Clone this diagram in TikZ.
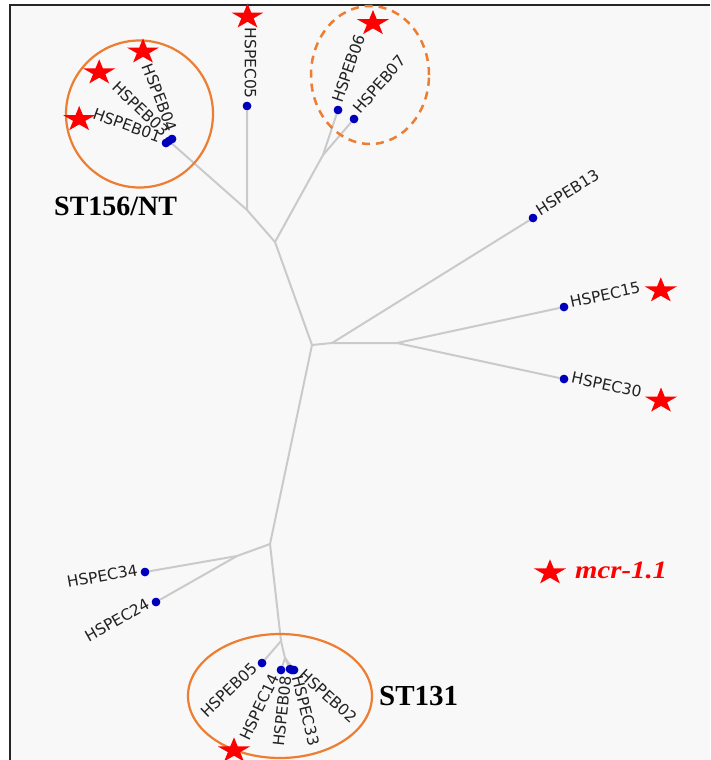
\documentclass[tikz,border=0pt]{standalone}
\usepackage{fontspec}
\newfontfamily\lblfont{DejaVu Sans}
\newfontfamily\serifb{Liberation Serif}
\usetikzlibrary{calc}
\definecolor{dotblue}{RGB}{0,0,187}
\definecolor{branchc}{RGB}{202,202,202}
\definecolor{orng}{RGB}{237,125,49}
\definecolor{bgc}{RGB}{248,248,248}
\definecolor{lbltxt}{RGB}{34,34,34}
\tikzset{
  mstar/.pic={\fill[red] (0pt,13.3pt) -- (3.77pt,4.11pt) -- (15.98pt,4.11pt) -- (6.11pt,-1.57pt)
     -- (9.88pt,-10.76pt) -- (0pt,-5.08pt) -- (-9.88pt,-10.76pt) -- (-6.11pt,-1.57pt)
     -- (-15.98pt,4.11pt) -- (-3.77pt,4.11pt) -- cycle;}
}
\begin{document}
\begin{tikzpicture}[x=1pt,y=-1pt,
  br/.style={draw=branchc, line width=2pt},
  leaf/.style={circle, fill=dotblue, inner sep=0pt, minimum size=8.5pt},
  lbl/.style={font=\lblfont\fontsize{15.5}{16}\selectfont, text=lbltxt, inner sep=0pt},
  grp/.style={draw=orng, line width=2.2pt},
  grpdash/.style={draw=orng, line width=2.5pt, dash pattern=on 8pt off 6pt},
  sttext/.style={font=\serifb\bfseries\fontsize{28}{30}\selectfont, text=black, inner sep=0pt, anchor=base west}
]
\useasboundingbox (0,0) rectangle (710,760);
\fill[white] (0,0) rectangle (710,760);
\fill[bgc] (10,5) rectangle (710,760);
\draw[line width=2pt, black!85] (10,760) -- (10,5) -- (710,5);

% internal nodes
\coordinate (A) at (312,345);
\coordinate (B) at (275,242);
\coordinate (C) at (247,210);
\coordinate (D) at (323,155);
\coordinate (E) at (332,343);
\coordinate (F) at (397,343);
\coordinate (G) at (270,544);
\coordinate (H) at (237,556);
\coordinate (I) at (281,641);
\coordinate (J) at (285,658);

% leaves
\node[leaf] (c05) at (247,106) {};
\node[leaf] (b01) at (166,143) {};
\node[leaf] (b03) at (169,141) {};
\node[leaf] (b04) at (172,139) {};
\node[leaf] (b06) at (338,110) {};
\node[leaf] (b07) at (354,119) {};
\node[leaf] (b13) at (533,218) {};
\node[leaf] (c15) at (564,307) {};
\node[leaf] (c30) at (564,379) {};
\node[leaf] (c34) at (145,572) {};
\node[leaf] (c24) at (156,602) {};
\node[leaf] (b05) at (262,663) {};
\node[leaf] (c14) at (281,670) {};
\node[leaf] (b08) at (290,669) {};
\node[leaf] (c33) at (292,670) {};
\node[leaf] (b02) at (294,670) {};

% branches
\draw[br] (A) -- (B) -- (C) -- (c05);
\draw[br] (C) -- (b03.center); \draw[br] (b01.center) -- (b04.center);
\draw[br] (B) -- (D) -- (b06); \draw[br] (D) -- (b07);
\draw[br] (A) -- (E) -- (b13); \draw[br] (E) -- (F) -- (c15); \draw[br] (F) -- (c30);
\draw[br] (A) -- (G) -- (H) -- (c34); \draw[br] (H) -- (c24);
\draw[br] (G) -- (I) -- (b05); \draw[br] (I) -- (J) -- (c14);
\draw[br] (J) -- (b08); \draw[br] (J) -- (c33); \draw[br] (J) -- (b02);

% redraw dots on top
\foreach \n in {c05,b01,b03,b04,b06,b07,b13,c15,c30,c34,c24,b05,c14,b08,c33,b02}
  \fill[dotblue] (\n.center) circle (4.25pt);

% labels (right reading)
\node[lbl, rotate=71, anchor=mid west] (lb06) at ($(b06)+(71:7pt)$) {HSPEB06};
\node[lbl, rotate=49, anchor=mid west] (lb07) at ($(b07)+(49:7pt)$) {HSPEB07};
\node[lbl, rotate=32, anchor=mid west] (lb13) at ($(b13)+(32:7pt)$) {HSPEB13};
\node[lbl, rotate=12, anchor=mid west] (lc15) at ($(c15)+(12:7pt)$) {HSPEC15};
\node[lbl, rotate=-12, anchor=mid west] (lc30) at ($(c30)+(-12:7pt)$) {HSPEC30};
\node[lbl, rotate=-76, anchor=mid west] (lc33) at ($(c33)+(-76:7pt)$) {HSPEC33};
\node[lbl, rotate=-42, anchor=mid west] (lb02) at ($(b02)+(-42:7pt)$) {HSPEB02};
% labels (flipped)
\node[lbl, rotate=-90, anchor=mid east] (lc05) at ($(c05)+(90:7pt)$) {HSPEC05};
\node[lbl, rotate=-20, anchor=mid east] (lb01) at ($(b01)+(160:7pt)$) {HSPEB01};
\node[lbl, rotate=-44, anchor=mid east] (lb03) at ($(b03)+(136:7pt)$) {HSPEB03};
\node[lbl, rotate=-69, anchor=mid east] (lb04) at ($(b04)+(111:7pt)$) {HSPEB04};
\node[lbl, rotate=10, anchor=mid east] (lc34) at ($(c34)+(190:7pt)$) {HSPEC34};
\node[lbl, rotate=29.6, anchor=mid east] (lc24) at ($(c24)+(209.6:7pt)$) {HSPEC24};
\node[lbl, rotate=44, anchor=mid east] (lb05) at ($(b05)+(224:7pt)$) {HSPEB05};
\node[lbl, rotate=64.5, anchor=mid east] (lc14) at ($(c14)+(244.5:7pt)$) {HSPEC14};
\node[lbl, rotate=84, anchor=mid east] (lb08) at ($(b08)+(264:7pt)$) {HSPEB08};

% group outlines
\draw[grp] (139.5,114) circle (73.5pt);
\draw[grpdash] (370,75) ellipse (59pt and 69pt);
\draw[grp] (280,696) ellipse (92pt and 62pt);

% stars
\pic at (79.2,119.3) {mstar};
\pic at (99.2,72.6) {mstar};
\pic at (143,51.7) {mstar};
\pic at (247.5,16.7) {mstar};
\pic at (373,23.3) {mstar};
\pic at (660.8,290.6) {mstar};
\pic at (661,400.8) {mstar};
\pic at (234,750.6) {mstar};
\pic at (550,572.6) {mstar};

% texts
\node[sttext] (st156) at (54,215) {ST156/NT};
\node[sttext, font=\serifb\bfseries\fontsize{29}{30}\selectfont] (st131) at (379,705) {ST131};
\node[inner sep=0pt, anchor=base west, text=red, xscale=1.15,
      font=\serifb\bfseries\itshape\fontsize{25}{27}\selectfont] (mcr) at (575,578) {mcr-1.1};
\end{tikzpicture}
\end{document}
